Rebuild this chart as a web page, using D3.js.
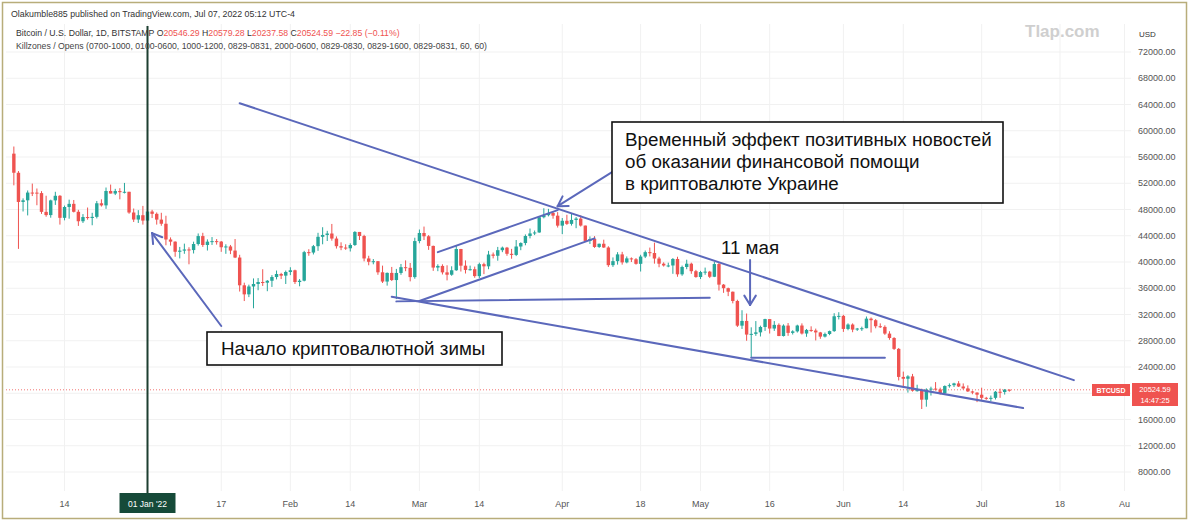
<!DOCTYPE html>
<html><head><meta charset="utf-8">
<script src="https://cdn.jsdelivr.net/npm/d3@7"></script>
<style>html,body{margin:0;padding:0;background:#fff;}svg{display:block;}</style>
</head><body>
<svg id="c" width="1190" height="522"></svg>
<script>
// ---- DATA ----
const startDate = "2021-12-03";
const openP = [
 56510,53600,49150,49400,50580,50570,50500,47640,47150,49390,50090,46730,48380,48860,47650,46210,46850,46710,46880,48950,48630,50820,50430,50810,50640,50700,47540,46470,47130,
 46310,47690,47340,46460,45830,43430,43100,41560,41730,41910,41820,42740,43950,42590,43100,43180,43110,42250,42370,41740,40680,36450,35070,36270,36650,36950,36850,37140,37710,38170,37920,
 38480,38740,36950,37150,41500,41440,42410,43840,44120,44340,43570,42410,42200,42090,42590,44580,43960,40540,40030,40120,38430,37020,38340,37250,38330,39210,39110,37700,
 43190,44420,43920,42450,39150,39400,38420,38060,38740,41980,39440,38790,38900,37850,39670,39340,41140,40950,41800,42190,41250,41080,42360,42890,43960,44350,44500,46820,47130,47470,47060,
 45540,46280,45810,46410,46620,45550,43210,43510,42290,42780,42210,39520,40130,41160,39940,40550,40420,39720,40830,41500,41370,40530,39740,39470,39470,40460,38120,39240,39740,38600,
 37710,38470,38530,37750,39690,36550,36010,35470,34060,30300,31020,28940,29050,29280,30100,31300,29860,30420,28720,30310,29200,29430,30320,29100,29650,29560,29270,28630,29030,29470,31730,
 31790,29800,30470,29700,29860,29910,31370,31130,30210,30110,29090,28420,26760,22490,22210,22570,20380,20470,19020,20550,20710,20580,19990,21100,21230,21500,21030,20740,20280,20100,
 19780,19300,19240,19300,20230,20190,20546.29];
const highP = [
 57600,53860,49700,50900,51950,51200,50800,50100,49500,50700,50200,48600,49500,49450,47950,47300,48300,47500,49300,49550,51350,51800,51150,51250,52050,50700,48150,47900,48550,
 47900,47950,47550,47500,47050,43750,43150,42300,42800,42250,43100,44350,44450,43450,43800,43500,43200,42700,42600,43500,41100,36850,36550,37500,37550,38900,37250,38000,38700,38350,38700,
 39200,38830,37400,41700,41950,42600,44450,45300,44750,45800,43900,43000,42700,42850,44700,44580,44150,40950,40450,40150,39450,38400,39250,38950,39700,40250,39850,43700,
 44950,45400,44100,42500,39650,39650,39500,39350,42550,42000,40250,39450,39300,39900,39900,41700,41450,42300,42350,42300,42000,43350,43000,44200,45100,44800,46950,48190,48100,47700,47600,
 46700,47200,47400,46850,47100,45550,43900,43950,42800,43400,42400,40700,41500,41550,40850,40700,40600,41100,41750,42200,42950,40800,39950,39900,40600,40800,39450,40350,39900,38800,
 38650,39150,38650,40000,39850,36650,36100,35500,34250,32650,32150,30050,31000,30300,31350,31300,31000,30650,30500,30700,29600,30450,30650,29800,30200,29850,29350,29250,29550,32200,32350,
 31950,30650,30650,29950,30150,31700,31550,31300,30650,30350,29450,28550,26900,23300,22750,22950,21300,20700,20750,21000,21700,20850,21200,21500,21600,21850,21500,21200,20400,20150,
 20850,19450,19650,20350,20700,20650,20579.28];
const lowP = [
 51680,42000,47700,47100,50050,48650,47330,46900,46750,48700,45700,46350,46600,47550,45500,45950,46450,45600,46640,48450,48100,50450,50200,49550,50450,47350,46100,45950,45700,
 46250,46700,45700,45520,42550,42500,40800,40550,41250,39650,41300,42500,42300,41750,42600,42650,41550,41250,41200,40600,35500,34050,34650,32950,35700,36350,35550,36200,37350,37400,36650,
 38000,36650,36300,37050,40950,41150,41700,42700,43200,43250,42050,41800,41850,41600,42450,43350,40100,39500,39650,38050,36800,36400,37100,34350,38050,38600,37050,37450,
 42850,43350,41850,38650,38600,38100,37200,37900,38650,38550,38250,38700,37600,37550,38150,38900,40550,40200,41500,40950,40500,40900,41800,42550,43600,44100,44450,46650,46950,46600,45250,
 44250,45650,45550,45150,45400,43150,42750,42150,42150,42150,39250,39250,39600,39600,39800,40000,39600,38550,40600,40850,39750,39200,39300,39200,38200,37750,37900,38900,38200,37600,
 37400,38050,37550,37700,35650,35300,34800,33700,30100,29800,28000,25400,28750,28650,29500,29100,29500,28700,28650,28750,28950,29250,28950,28600,29350,28050,28300,28500,28850,29350,31250,
 29350,29600,29300,29500,29500,29900,29250,29900,29950,28900,28150,26600,21950,20850,20100,20250,20250,17600,17950,19650,20400,19800,19900,20850,20950,20950,20550,20200,19850,18650,
 19000,19000,18800,19050,19300,19800,20237.58];
const closeP = [
 53600,49150,49400,50580,50570,50500,47640,47150,49390,50090,46730,48380,48860,47650,46210,46850,46710,46880,48950,48630,50820,50430,50810,50640,50700,47540,46470,47130,46310,
 47690,47340,46460,45830,43430,43100,41560,41730,41910,41820,42740,43950,42590,43100,43180,43110,42250,42370,41740,40680,36450,35070,36270,36650,36950,36850,37140,37710,38170,37920,38480,
 38740,36950,37150,41500,41440,42410,43840,44120,44340,43570,42410,42200,42090,42590,44580,43960,40540,40030,40120,38430,37020,38340,37250,38330,39210,39110,37700,43190,
 44420,43920,42450,39150,39400,38420,38060,38740,41980,39440,38790,38900,37850,39670,39340,41140,40950,41800,42190,41250,41080,42360,42890,43960,44350,44500,46820,47130,47470,47060,45540,
 46280,45810,46410,46620,45550,43210,43510,42290,42780,42210,39520,40130,41160,39940,40550,40420,39720,40830,41500,41370,40530,39740,39470,39470,40460,38120,39240,39740,38600,37710,
 38470,38530,37750,39690,36550,36010,35470,34060,30300,31020,28940,29050,29280,30100,31300,29860,30420,28720,30310,29200,29430,30320,29100,29650,29560,29270,28630,29030,29470,31730,31790,
 29800,30470,29700,29860,29910,31370,31130,30210,30110,29090,28420,26760,22490,22210,22570,20380,20470,19020,20550,20710,20580,19990,21100,21230,21500,21030,20740,20280,20100,19780,
 19300,19240,19300,20230,20190,20546,20524.59];

const priceTicks = [8000,12000,16000,20000,24000,28000,32000,36000,40000,44000,48000,52000,56000,60000,64000,68000,72000];
const timeTickDates = ["2021-12-14","2022-01-01","2022-01-17","2022-02-01","2022-02-14","2022-03-01","2022-03-14","2022-04-01","2022-04-18","2022-05-01","2022-05-16","2022-06-01","2022-06-14","2022-07-01","2022-07-18","2022-08-01"];
const timeTickLabels = ["14","01 Jan '22","17","Feb","14","Mar","14","Apr","18","May","16","Jun","14","Jul","18","Au"];
const lastPrice = 20524.59;
const markerDate = "2022-01-01";

// trend lines drawn on chart: [date, price] pairs
const trendLines = [
 [["2022-01-21",64200],["2022-07-21",22000]],
 [["2022-02-23",34700],["2022-07-10",17750]],
 [["2022-03-05",41500],["2022-03-31",47900]],
 [["2022-03-01",34050],["2022-04-08",43600]],
 [["2022-02-24",34000],["2022-05-03",34550]],
 [["2022-05-12",25400],["2022-06-10",25400]]
];
// arrows: [tail, tip]
const arrows = [
 [["2022-01-17",30250],["2022-01-02",44400]],
 [["2022-04-15",55100],["2022-03-31",48500]],
 [["2022-05-11T18:00",40300],["2022-05-11T18:00",33450]]
];

// ---- CHART ----
const svg = d3.select("#c");
const parse = s => new Date(s.length === 10 ? s + "T00:00:00Z" : s + ":00Z");
const x = d3.scaleUtc().domain([parse("2022-01-01"), parse("2022-07-18")]).range([147.5, 1060]);
const y = d3.scaleLinear().domain([8000, 72000]).range([472, 52]);

const dates = d3.utcDay.range(parse(startDate), d3.utcDay.offset(parse(startDate), closeP.length));
const candles = dates.map((d, i) => ({d, o: openP[i], h: highP[i], l: lowP[i], c: closeP[i]}));

const plotL = 6, plotR = 1131, plotT = 24, plotB = 491;
const FONT = "'Liberation Sans', Arial, sans-serif";
const UP = "#26a69a", DN = "#ef5350", BLUE = "#5b68bb";

svg.append("rect").attr("width",1190).attr("height",522).attr("fill","#fff");

// grid
const grid = svg.append("g");
grid.selectAll("line.h").data(priceTicks).join("line")
  .attr("x1", plotL).attr("x2", plotR).attr("y1", d=>y(d)).attr("y2", d=>y(d))
  .attr("stroke","#f1f1f1").attr("stroke-width",1);
grid.selectAll("line.v").data(timeTickDates).join("line")
  .attr("x1", d=>x(parse(d))).attr("x2", d=>x(parse(d))).attr("y1", plotT).attr("y2", plotB)
  .attr("stroke","#f1f1f1").attr("stroke-width",1);

// last price dotted line
svg.append("line").attr("x1", plotL).attr("x2", 1092)
  .attr("y1", y(lastPrice)).attr("y2", y(lastPrice))
  .attr("stroke", DN).attr("stroke-width",1).attr("stroke-dasharray","1,2").attr("opacity",0.8);

// candles
const bw = 3.4;
const cg = svg.append("g");
cg.selectAll("line").data(candles).join("line")
  .attr("x1", d=>x(d.d)).attr("x2", d=>x(d.d))
  .attr("y1", d=>y(d.h)).attr("y2", d=>y(d.l))
  .attr("stroke", d=> d.c >= d.o ? UP : DN).attr("stroke-width",1);
cg.selectAll("rect").data(candles).join("rect")
  .attr("x", d=>x(d.d)-bw/2).attr("width", bw)
  .attr("y", d=>y(Math.max(d.o,d.c)))
  .attr("height", d=>Math.max(1, Math.abs(y(d.o)-y(d.c))))
  .attr("fill", d=> d.c >= d.o ? UP : DN);

// marker vertical line
svg.append("line").attr("x1", x(parse(markerDate))).attr("x2", x(parse(markerDate)))
  .attr("y1", 26).attr("y2", 494).attr("stroke","#1d3f30").attr("stroke-width",2);

// trend lines
svg.append("g").selectAll("line").data(trendLines).join("line")
  .attr("x1", d=>x(parse(d[0][0]))).attr("y1", d=>y(d[0][1]))
  .attr("x2", d=>x(parse(d[1][0]))).attr("y2", d=>y(d[1][1]))
  .attr("stroke", BLUE).attr("stroke-width",2).attr("stroke-linecap","round");

// arrows
const ag = svg.append("g");
arrows.forEach(a => {
  const x1 = x(parse(a[0][0])), y1 = y(a[0][1]), x2 = x(parse(a[1][0])), y2 = y(a[1][1]);
  ag.append("line").attr("x1",x1).attr("y1",y1).attr("x2",x2).attr("y2",y2)
    .attr("stroke",BLUE).attr("stroke-width",2).attr("stroke-linecap","round");
  const ang = Math.atan2(y1-y2, x1-x2), L = 11, sp = 0.55;
  [ang-sp, ang+sp].forEach(t => {
    ag.append("line").attr("x1",x2).attr("y1",y2)
      .attr("x2", x2+L*Math.cos(t)).attr("y2", y2+L*Math.sin(t))
      .attr("stroke",BLUE).attr("stroke-width",2).attr("stroke-linecap","round");
  });
});

// annotation boxes
function box(x0, y0, w, h, lines, tx, ty, lh) {
  svg.append("rect").attr("x",x0).attr("y",y0).attr("width",w).attr("height",h)
    .attr("fill","#fff").attr("stroke","#111").attr("stroke-width",1.6);
  lines.forEach((t,i) => svg.append("text").attr("x",tx).attr("y",ty+i*lh)
    .attr("font-family",FONT).attr("font-size",18.8).attr("fill","#111").text(t));
}
box(612, 122, 391, 81, ["Временный эффект позитивных новостей","об оказании финансовой помощи","в криптовалюте Украине"], 625, 146, 22);
box(207, 332, 295, 33, ["Начало криптовалютной зимы"], 221, 355, 0);
svg.append("text").attr("x", 750).attr("y", 254).attr("text-anchor","middle")
  .attr("font-family",FONT).attr("font-size",18.8).attr("fill","#111").text("11 мая");

// price axis (the label hidden behind the last-price box is skipped)
const pa = svg.append("g").attr("font-family",FONT).attr("font-size",9).attr("fill","#555");
pa.selectAll("text").data(priceTicks.filter(d => Math.abs(y(d) - y(lastPrice)) > 12)).join("text")
  .attr("x",1138).attr("y", d=>y(d)+3).text(d=>d3.format(".2f")(d));
pa.append("text").attr("x",1139).attr("y",37).attr("font-size",8).attr("fill","#333").text("USD");

// last price labels
svg.append("rect").attr("x",1092).attr("y",384).attr("width",38).attr("height",12).attr("fill",DN);
svg.append("text").attr("x",1111).attr("y",393).attr("text-anchor","middle").attr("font-family",FONT)
  .attr("font-size",7).attr("font-weight","bold").attr("fill","#fff").text("BTCUSD");
svg.append("rect").attr("x",1132).attr("y",383).attr("width",46).attr("height",23).attr("fill",DN);
svg.append("text").attr("x",1155).attr("y",392).attr("text-anchor","middle").attr("font-family",FONT)
  .attr("font-size",7.5).attr("fill","#fff").text(d3.format(".2f")(lastPrice));
svg.append("text").attr("x",1155).attr("y",403).attr("text-anchor","middle").attr("font-family",FONT)
  .attr("font-size",7.5).attr("fill","#fff").text("14:47:25");

// time axis
const ta = svg.append("g").attr("font-family",FONT).attr("font-size",9).attr("fill","#555");
timeTickDates.forEach((d,i) => {
  const px = x(parse(d));
  if (d === markerDate) {
    ta.append("rect").attr("x",px-28).attr("y",493).attr("width",56).attr("height",20).attr("fill","#164a39");
    ta.append("text").attr("x",px).attr("y",506.5).attr("text-anchor","middle").attr("fill","#fff")
      .attr("font-size",8.5).text(timeTickLabels[i]);
  } else {
    ta.append("text").attr("x",px).attr("y",506.5).attr("text-anchor","middle").text(timeTickLabels[i]);
  }
});

// header
const hd = svg.append("g").attr("font-family",FONT);
hd.append("text").attr("x",11).attr("y",17).attr("font-size",8.8).attr("fill","#333")
  .text("Olakumble885 published on TradingView.com, Jul 07, 2022 05:12 UTC-4");
const l2 = hd.append("text").attr("x",16).attr("y",36).attr("font-size",8.7).attr("fill","#333");
l2.append("tspan").text("Bitcoin / U.S. Dollar, 1D, BITSTAMP  ");
[["O","20546.29"],["H","20579.28"],["L","20237.58"],["C","20524.59"]].forEach(p => {
  l2.append("tspan").attr("fill","#333").text(p[0]);
  l2.append("tspan").attr("fill",DN).text(p[1] + "  ");
});
l2.append("tspan").attr("fill",DN).text("−22.85 (−0.11%)");
hd.append("text").attr("x",16).attr("y",49).attr("font-size",8.7).attr("fill","#444")
  .text("Killzones / Opens (0700-1000, 0100-0600, 1000-1200, 0829-0831, 2000-0600, 0829-0830, 0829-1600, 0829-0831, 60, 60)");

// watermark
svg.append("text").attr("x",1025).attr("y",37).attr("font-family",FONT)
  .attr("font-size",17).attr("font-weight","bold").attr("fill","#cfcfcf").text("Tlap.com");

// outer border
svg.append("rect").attr("x",2.5).attr("y",2.5).attr("width",1184).attr("height",516)
  .attr("fill","none").attr("stroke","#b8ad7a").attr("stroke-width",1.5);
</script>
</body></html>
